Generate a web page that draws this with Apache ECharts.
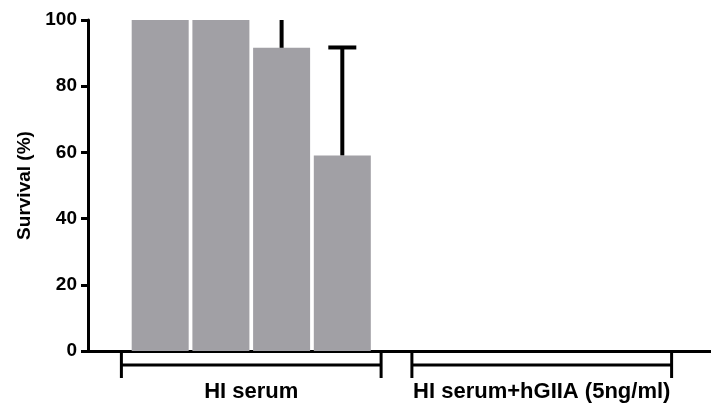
<!DOCTYPE html>
<html>
<head>
<meta charset="utf-8">
<script src="https://cdn.jsdelivr.net/npm/echarts@6/dist/echarts.min.js"></script>
<style>html,body{margin:0;padding:0;background:#fff}#c{width:711px;height:411px}</style>
</head>
<body>
<div id="c"></div>
<script>
// ---- data ----
var categories = ['HI serum', 'HI serum+hGIIA (5ng/ml)'];
var bar1 = [100, 0];
var bar2 = [100, 0];
var bar3 = [91.6, 0];
var bar4 = [59.1, 0];
var err1 = [0, 0];
var err2 = [0, 0];
var err3 = [8.4, 0];
var err4 = [32.6, 0];
var yTicks = [0, 20, 40, 60, 80, 100];

var bars = [bar1, bar2, bar3, bar4];
var errs = [err1, err2, err3, err4];
var yMax = yTicks[yTicks.length - 1];

var BAR_W = 57, BAR_GAP = 0.065;
var FONT = 'Liberation Sans, Arial, Helvetica, sans-serif';

var series = [];
bars.forEach(function (vals, i) {
  series.push({
    type: 'bar', xAxisIndex: 0, yAxisIndex: 0,
    data: vals, barWidth: BAR_W, barGap: (BAR_GAP * 100) + '%',
    itemStyle: { color: '#a1a0a5' }, silent: true, z: 2
  });
});

// error bars (upper only)
var errData = [];
bars.forEach(function (vals, i) {
  vals.forEach(function (v, j) {
    if (errs[i][j] > 0) errData.push([j, v, v + errs[i][j], i]);
  });
});
series.push({
  type: 'custom', xAxisIndex: 0, yAxisIndex: 0, z: 5, silent: true,
  data: errData, encode: { x: 0, y: 1 }, clip: false,
  renderItem: function (params, api) {
    var j = api.value(0), lo = api.value(1), hi = api.value(2), i = api.value(3);
    var off = (i - (bars.length - 1) / 2) * BAR_W * (1 + BAR_GAP);
    var p0 = api.coord([j, lo]), p1 = api.coord([j, Math.min(hi, yMax)]);
    var x = p0[0] + off;
    var children = [{
      type: 'line', shape: { x1: x, y1: p0[1], x2: x, y2: p1[1] },
      style: { stroke: '#000', lineWidth: 4 }
    }];
    if (hi < yMax) {
      children.push({
        type: 'line', shape: { x1: x - 14, y1: p1[1], x2: x + 14, y2: p1[1] },
        style: { stroke: '#000', lineWidth: 4 }
      });
    }
    return { type: 'group', children: children };
  }
});

// group brackets under the x axis
series.push({
  type: 'custom', xAxisIndex: 0, yAxisIndex: 0, z: 5, silent: true, clip: false,
  data: categories.map(function (c, j) { return [j, 0]; }), encode: { x: 0, y: 1 },
  renderItem: function (params, api) {
    var p = api.coord([api.value(0), 0]);
    var hw = api.size([1, 0])[0] * 0.447;
    var y = p[1];
    var st = { stroke: '#000', lineWidth: 3 };
    return { type: 'group', children: [
      { type: 'line', shape: { x1: p[0] - hw, y1: y + 14, x2: p[0] + hw, y2: y + 14 }, style: st },
      { type: 'line', shape: { x1: p[0] - hw, y1: y + 1, x2: p[0] - hw, y2: y + 27 }, style: st },
      { type: 'line', shape: { x1: p[0] + hw, y1: y + 1, x2: p[0] + hw, y2: y + 27 }, style: st }
    ]};
  }
});

var chart = echarts.init(document.getElementById('c'), null, { renderer: 'canvas' });
chart.setOption({
  animation: false,
  backgroundColor: '#fff',
  grid: [
    { left: 106, right: 24, top: 20, bottom: 60 },
    { left: 88, right: 0, top: 20, bottom: 60 }
  ],
  xAxis: [
    {
      type: 'category', gridIndex: 0, data: categories,
      axisLine: { show: false }, axisTick: { show: false },
      axisLabel: { interval: 0, hideOverlap: false, color: '#000', fontFamily: FONT, fontWeight: 'bold', fontSize: 22, margin: 30 }
    },
    {
      type: 'value', gridIndex: 1, min: 0, max: 1,
      axisLine: { show: true, lineStyle: { color: '#000', width: 3 } },
      axisTick: { show: false }, axisLabel: { show: false }, splitLine: { show: false }
    }
  ],
  yAxis: [
    {
      type: 'value', gridIndex: 0, min: yTicks[0], max: yMax, interval: yTicks[1] - yTicks[0],
      offset: 18,
      name: 'Survival (%)', nameLocation: 'middle', nameGap: 52,
      nameTextStyle: { color: '#000', fontFamily: FONT, fontWeight: 'bold', fontSize: 19 },
      axisLine: { show: true, lineStyle: { color: '#000', width: 3 } },
      axisTick: { show: true, length: 7, lineStyle: { color: '#000', width: 3 } },
      axisLabel: { color: '#000', fontFamily: FONT, fontWeight: 'bold', fontSize: 19, margin: 11 },
      splitLine: { show: false }
    },
    {
      type: 'value', gridIndex: 1, min: 0, max: yMax, show: false
    }
  ],
  series: series
});
</script>
</body>
</html>
